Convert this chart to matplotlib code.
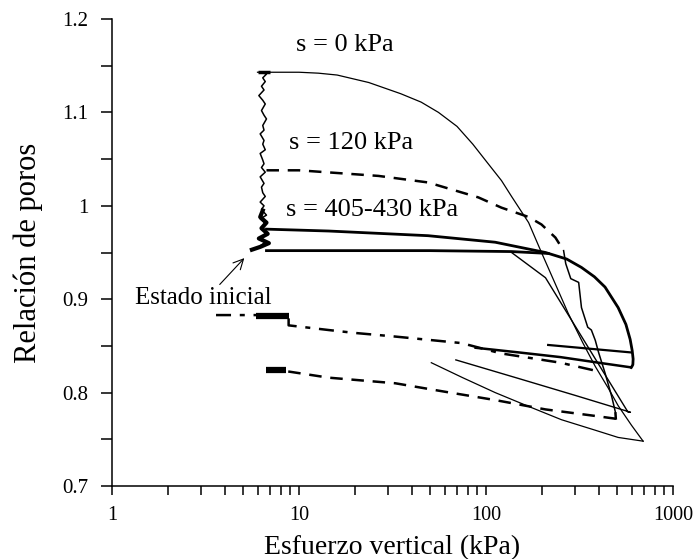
import matplotlib
matplotlib.use("Agg")
import matplotlib.pyplot as plt
from matplotlib.ticker import FixedLocator, FuncFormatter, NullFormatter

plt.rcParams['font.family'] = ['Liberation Serif', 'DejaVu Serif']

# ---- data ----
# wetting path (jagged vertical trace near 6.5 kPa)
wet_e = [1.143, 1.141, 1.137, 1.133, 1.128, 1.124, 1.118, 1.113, 1.109, 1.102,
         1.097, 1.093, 1.086, 1.081, 1.077, 1.070, 1.066, 1.060, 1.056, 1.049,
         1.045, 1.041, 1.036, 1.031, 1.024, 1.020, 1.014, 1.010, 1.004, 1.000,
         0.996, 0.990, 0.986, 0.981, 0.975, 0.971, 0.965, 0.961, 0.955]
wet_x = [6.3, 6.7, 6.4, 6.6, 6.3, 6.5, 6.1, 6.4, 6.6, 6.3,
         6.5, 6.7, 6.4, 6.5, 6.2, 6.5, 6.4, 6.6, 6.2, 6.4,
         6.5, 6.3, 6.6, 6.2, 6.5, 6.3, 6.4, 6.6, 6.2, 6.5,
         6.3, 6.7, 6.2, 6.6, 6.3, 6.8, 6.1, 6.6, 6.0]
wet_thick_e = [0.995, 0.988, 0.982, 0.976, 0.970, 0.965, 0.960, 0.956, 0.953]
wet_thick_x = [6.4, 6.2, 6.7, 6.3, 6.8, 6.1, 6.9, 6.2, 5.6]
top_blob_x = [6.0, 7.0]
top_blob_e = [1.143, 1.143]

# s = 0 kPa (thin solid)
s0_load_x = [6.0, 8, 10, 12.7, 16, 23.6, 35, 45, 55.7, 70, 85, 100, 121, 137,
             169, 198, 240, 275, 330, 384, 450, 509, 600, 692]
s0_load_e = [1.143, 1.143, 1.143, 1.142, 1.140, 1.132, 1.120, 1.111, 1.100, 1.085,
             1.066, 1.048, 1.027, 1.010, 0.982, 0.950, 0.912, 0.885, 0.853, 0.828,
             0.805, 0.786, 0.765, 0.748]
s0_unl_x = [692, 509, 380, 253, 170, 112, 75, 51]
s0_unl_e = [0.748, 0.752, 0.760, 0.771, 0.785, 0.800, 0.816, 0.832]

# s = 120 kPa (dashed)
s120_load_x = [6.7, 10, 26.6, 49, 91, 121, 169, 198, 235, 260]
s120_load_e = [1.038, 1.038, 1.032, 1.025, 1.009, 0.998, 0.988, 0.980, 0.966, 0.952]
s120_steep_x = [260, 267, 284, 313, 324, 350, 366, 384, 400, 433, 470, 492]
s120_steep_e = [0.952, 0.938, 0.922, 0.918, 0.891, 0.870, 0.867, 0.856, 0.843, 0.821, 0.796, 0.779]
s120_end_x = [492, 495]
s120_end_e = [0.779, 0.771]
s120_unl_x = [495, 384, 208, 112, 60, 32.7, 14.4, 8.5, 6.7]
s120_unl_e = [0.772, 0.775, 0.782, 0.792, 0.801, 0.810, 0.816, 0.823, 0.825]

# upper unloading trace (dash-dot)
up_unl_x = [3.6, 6.0, 8.8, 8.8, 14.4, 19.6, 32.7, 74, 120, 250, 414]
up_unl_e = [0.883, 0.883, 0.882, 0.872, 0.867, 0.864, 0.860, 0.853, 0.842, 0.832, 0.822]

# s = 405-430 kPa (thick solid)
s405a_x = [6.7, 14.4, 49, 112, 208, 270, 324, 380, 433, 509, 560, 590, 605, 612, 610, 603, 597]
s405a_e = [0.975, 0.973, 0.968, 0.961, 0.950, 0.943, 0.934, 0.924, 0.913, 0.891,
           0.873, 0.857, 0.845, 0.836, 0.830, 0.828, 0.827]
s405b_x = [6.7, 50, 137, 215]
s405b_e = [0.952, 0.952, 0.951, 0.949]
s405_unl_x = [597, 400, 250, 150, 88]
s405_unl_e = [0.827, 0.832, 0.838, 0.843, 0.848]
s405_rel_x = [215, 597]
s405_rel_e = [0.851, 0.843]

# second thin loop
loop_x = [137, 208, 575, 592, 300, 150, 69]
loop_e = [0.950, 0.923, 0.779, 0.779, 0.797, 0.815, 0.835]

# blobs at low stress
blob_up_x = [5.9, 8.8]
blob_up_e = [0.882, 0.882]
blob_lo_x = [6.7, 8.5]
blob_lo_e = [0.824, 0.824]

xticks_major = [1, 10, 100, 1000]
yticks_major = [0.7, 0.8, 0.9, 1.0, 1.1, 1.2]

# ---- figure ----
fig = plt.figure(figsize=(6.95, 5.59), dpi=100)
ax = fig.add_axes([112/695, 1-486/559, (673-112)/695, (486-19)/559])
ax.set_xscale('log')
ax.set_xlim(1, 1000)
ax.set_ylim(0.7, 1.2)

k = 'black'
ax.plot(wet_x, wet_e, color=k, lw=1.1)
ax.plot(wet_thick_x, wet_thick_e, color=k, lw=3.0)
ax.plot(top_blob_x, top_blob_e, color=k, lw=2.5, solid_capstyle='butt')
ax.plot(s0_load_x, s0_load_e, color=k, lw=0.9)
ax.plot(s0_unl_x, s0_unl_e, color=k, lw=0.9)

ax.plot(s120_load_x, s120_load_e, color=k, lw=1.8, dashes=(5, 3.5))
ax.plot(s120_steep_x, s120_steep_e, color=k, lw=1.1)
ax.plot(s120_end_x, s120_end_e, color=k, lw=1.8, dashes=(5, 3.5))
ax.plot(s120_unl_x, s120_unl_e, color=k, lw=1.8, dashes=(5, 3.5))
ax.plot(up_unl_x, up_unl_e, color=k, lw=1.8, dashes=(6, 3.5, 2, 3.5))

ax.plot(s405a_x, s405a_e, color=k, lw=2.0)
ax.plot(s405b_x, s405b_e, color=k, lw=2.0)
ax.plot(s405_unl_x, s405_unl_e, color=k, lw=1.8)
ax.plot(s405_rel_x, s405_rel_e, color=k, lw=1.6)
ax.plot(loop_x, loop_e, color=k, lw=1.0)

ax.plot(blob_up_x, blob_up_e, color=k, lw=4.5, solid_capstyle='butt')
ax.plot(blob_lo_x, blob_lo_e, color=k, lw=4.5, solid_capstyle='butt')

ax.text(17.6, 1.172, 's = 0 kPa', ha='center', va='center', fontsize=19)
ax.text(18.9, 1.067, 's = 120 kPa', ha='center', va='center', fontsize=19)
ax.text(24.5, 0.995, 's = 405-430 kPa', ha='center', va='center', fontsize=19)
ax.annotate('Estado inicial', xy=(5.1, 0.944), xytext=(1.33, 0.901),
            ha='left', va='center', fontsize=18,
            arrowprops=dict(arrowstyle='->', color=k, lw=0.8,
                            shrinkA=0, shrinkB=0, relpos=(0.6, 1.0)))

for s in ['top', 'right']:
    ax.spines[s].set_visible(False)
for s in ['left', 'bottom']:
    ax.spines[s].set_linewidth(1.1)

ax.xaxis.set_major_locator(FixedLocator(xticks_major))
ax.xaxis.set_major_formatter(FuncFormatter(lambda v, p: '%g' % v))
ax.xaxis.set_minor_locator(FixedLocator([m * d for d in (1, 10, 100) for m in range(2, 10)]))
ax.xaxis.set_minor_formatter(NullFormatter())
ax.yaxis.set_major_locator(FixedLocator(yticks_major))
ax.yaxis.set_major_formatter(FuncFormatter(lambda v, p: '%g' % round(v, 2)))
ax.yaxis.set_minor_locator(FixedLocator([0.75, 0.85, 0.95, 1.05, 1.15]))

ax.tick_params(axis='x', which='both', direction='out', length=6.5, width=1.1,
               labelsize=14.5, pad=8)
ax.tick_params(axis='y', which='both', direction='out', length=8, width=1.1,
               labelsize=15, pad=9)

ax.set_xlabel('Esfuerzo vertical (kPa)', fontsize=20, labelpad=7)
ax.set_ylabel('Relación de poros', fontsize=22, labelpad=14)

fig.savefig('out.png', dpi=100)
